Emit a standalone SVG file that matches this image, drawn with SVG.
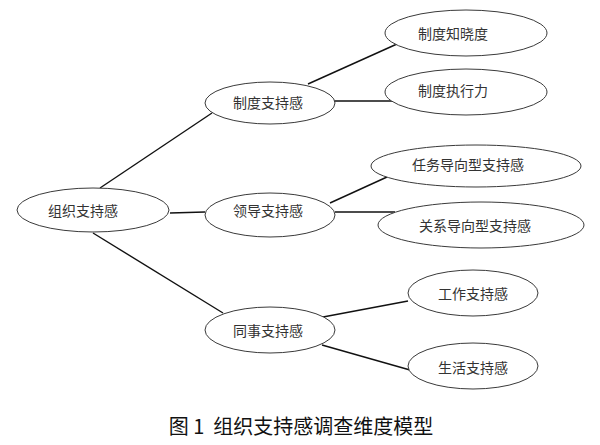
<svg xmlns="http://www.w3.org/2000/svg" width="600" height="445" viewBox="0 0 600 445">
<style>
.n ellipse{fill:#fff;stroke:#3a3a3a;stroke-width:1}
.n text{font-family:"Noto Sans CJK SC","Noto Sans CJK JP",sans-serif;font-size:14px;fill:#333;text-anchor:middle}
#edges line{stroke:#111;stroke-width:1.4}
.cap{font-family:"Noto Sans CJK SC",serif;font-size:20px;font-weight:400;fill:#111;text-anchor:middle;white-space:pre}
</style>
<rect width="600" height="445" fill="#fff"/>
<g id="edges">
<line x1="100" y1="188" x2="212" y2="113"/>
<line x1="170" y1="213" x2="205" y2="212"/>
<line x1="93" y1="233" x2="223" y2="313"/>
<line x1="308" y1="84" x2="397" y2="44"/>
<line x1="334" y1="101" x2="395" y2="101"/>
<line x1="330" y1="203" x2="387" y2="177"/>
<line x1="335" y1="212" x2="395" y2="212"/>
<line x1="323" y1="317" x2="408" y2="301"/>
<line x1="322" y1="345" x2="410" y2="370"/>
</g>
<g id="root" class="n"><ellipse cx="93" cy="210" rx="76" ry="22"/><text x="83" y="216">组织支持感</text></g>
<g id="zhidu" class="n"><ellipse cx="270" cy="103" rx="65" ry="21"/><text x="268" y="108">制度支持感</text></g>
<g id="zhidu1" class="n"><ellipse cx="466" cy="33" rx="81" ry="23"/><text x="453" y="39">制度知晓度</text></g>
<g id="zhidu2" class="n"><ellipse cx="466" cy="92" rx="81" ry="23"/><text x="453" y="96">制度执行力</text></g>
<g id="lingdao" class="n"><ellipse cx="270" cy="215" rx="65" ry="22"/><text x="268" y="216">领导支持感</text></g>
<g id="lingdao1" class="n"><ellipse cx="476" cy="166" rx="105" ry="21"/><text x="468" y="170">任务导向型支持感</text></g>
<g id="lingdao2" class="n"><ellipse cx="481" cy="225" rx="103" ry="23"/><text x="475" y="231">关系导向型支持感</text></g>
<g id="tongshi" class="n"><ellipse cx="270" cy="330" rx="65" ry="23"/><text x="268" y="336">同事支持感</text></g>
<g id="tongshi1" class="n"><ellipse cx="473" cy="293" rx="65" ry="23"/><text x="473" y="299">工作支持感</text></g>
<g id="tongshi2" class="n"><ellipse cx="473" cy="366" rx="65" ry="23"/><text x="473" y="373">生活支持感</text></g>
<text class="cap" x="301" y="434" xml:space="preserve">图 1  组织支持感调查维度模型</text>
</svg>
